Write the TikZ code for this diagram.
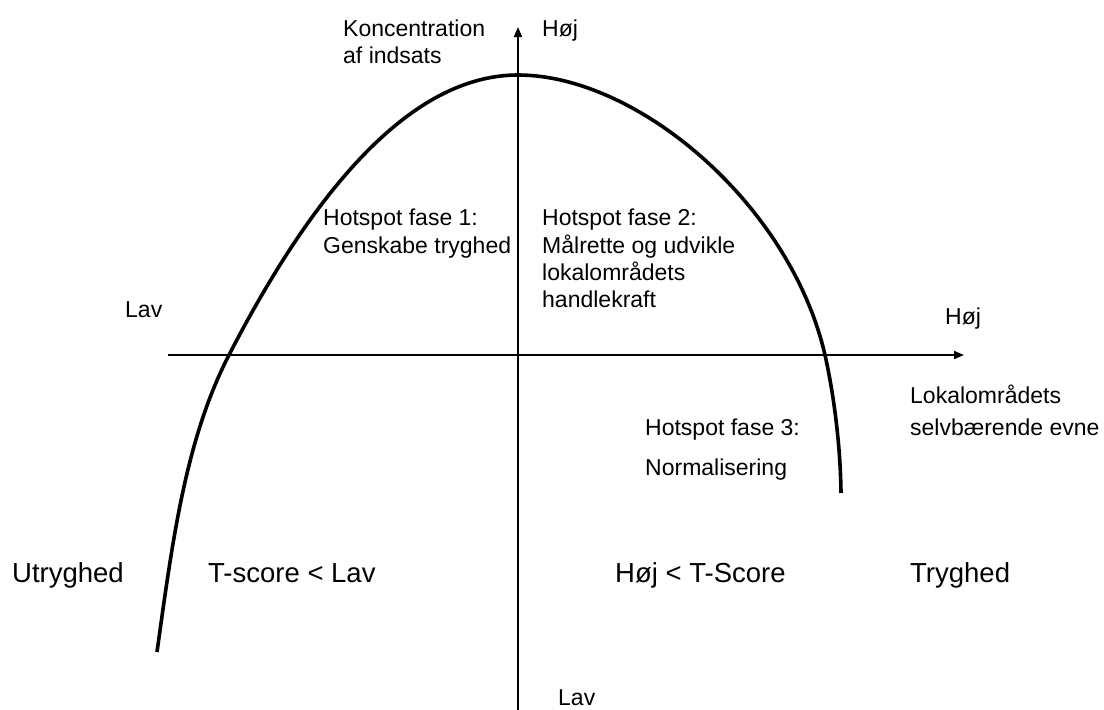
\documentclass[tikz,border=0pt]{standalone}
\usepackage{fontspec}
\setmainfont{Liberation Sans}
\usetikzlibrary{arrows.meta}
\begin{document}
\begin{tikzpicture}[x=1pt,y=-1pt,
  lbl/.style={anchor=base west,inner sep=0pt,font=\fontsize{23}{28}\selectfont},
  big/.style={anchor=base west,inner sep=0pt,font=\fontsize{27.5}{32}\selectfont},
  axis/.style={line width=1.8pt,-{Triangle[length=10pt,width=8pt]}},
  curve/.style={line width=3.6pt}]
\useasboundingbox (0,0) rectangle (1104,710);
% axes
\coordinate (vb) at (518,712);
\coordinate (vt) at (518,27);
\coordinate (hl) at (168,355);
\coordinate (hr) at (964,355);
\draw[axis] (vb) -- (vt);
\draw[axis] (hl) -- (hr);
% curve
\coordinate (c0) at (157,652);
\coordinate (c1) at (229,355);
\coordinate (c2) at (518,75);
\coordinate (c3) at (825,355);
\coordinate (c4) at (841,493);
\draw[curve] (c0) .. controls (172,545) and (185,440) .. (c1)
  .. controls (325.3,168.3) and (421.7,75) .. (c2)
  .. controls (638,75) and (790.5,205) .. (c3)
  .. controls (835,400) and (840.5,450) .. (c4);
% labels
\node[lbl] (k1) at (343,36) {Koncentration};
\node[lbl] (k2) at (343,63) {af indsats};
\node[lbl] (h1) at (542,36) {Høj};
\node[lbl] (lavl) at (125,317) {Lav};
\node[lbl] (hojr) at (945,324) {Høj};
\node[lbl] (l1) at (910,403) {Lokalområdets};
\node[lbl] (l2) at (910,435) {selvbærende evne};
\node[lbl] (f1a) at (323,225) {Hotspot fase 1:};
\node[lbl] (f1b) at (323,253) {Genskabe tryghed};
\node[lbl] (f2a) at (542,225) {Hotspot fase 2:};
\node[lbl] (f2b) at (542,253) {Målrette og udvikle};
\node[lbl] (f2c) at (542,280) {lokalområdets};
\node[lbl] (f2d) at (542,307) {handlekraft};
\node[lbl] (f3a) at (645,435) {Hotspot fase 3:};
\node[lbl] (f3b) at (645,475) {Normalisering};
\node[lbl] (lavb) at (558,705) {Lav};
\node[big] (u) at (12,582) {Utryghed};
\node[big] (ts1) at (208,582) {T-score < Lav};
\node[big] (ts2) at (615,582) {Høj < T-Score};
\node[big] (t) at (910,582) {Tryghed};
\end{tikzpicture}
\end{document}
